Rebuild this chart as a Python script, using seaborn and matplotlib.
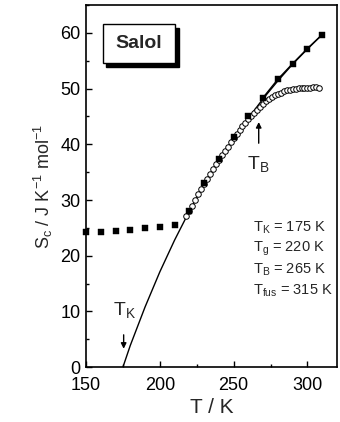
import pandas as pd
import matplotlib.pyplot as plt
import seaborn as sns
from matplotlib.patches import Rectangle
from matplotlib.ticker import MultipleLocator

# GLASS (BELOW Tg) SQUARES
glass_T = [150, 160, 170, 180, 190, 200, 210]
glass_S = [24.2, 24.3, 24.4, 24.7, 24.9, 25.1, 25.5]

# LIQUID SQUARES ON THE CURVE
liquid_T = [220, 230, 240, 250, 260, 270, 280, 290, 300, 310]
liquid_S = [28.0, 33.0, 37.3, 41.3, 45.0, 48.4, 51.7, 54.5, 57.2, 59.7]

# SOLID CURVE
curve_T = [175, 180, 190, 200, 210, 220, 230, 240, 250, 260, 270, 280, 290, 300, 310]
curve_S = [0.0, 3.9, 10.8, 17.1, 22.8, 28.0, 32.8, 37.1, 41.1, 44.7, 48.2, 51.4, 54.4, 57.1, 59.7]

# OPEN CIRCLES
circ_T = [218, 220, 222, 224, 226, 228, 230, 232, 234, 236, 238, 240, 242, 244,
          246, 248, 250, 252, 254, 256, 258, 260, 262, 264, 266, 268, 270, 272,
          274, 276, 278, 280, 282, 284, 286, 288, 290, 292, 294, 296, 298, 300,
          302, 304, 306, 308]
circ_S = [27.2, 28.0, 29.0, 30.0, 31.0, 32.0, 32.9, 33.8, 34.7, 35.6, 36.4, 37.2,
          38.0, 38.8, 39.6, 40.4, 41.1, 41.8, 42.5, 43.2, 43.9, 44.5, 45.1, 45.7,
          46.2, 46.7, 47.2, 47.7, 48.1, 48.5, 48.8, 49.1, 49.3, 49.5, 49.7, 49.8,
          49.9, 50.0, 50.1, 50.1, 50.2, 50.2, 50.2, 50.3, 50.3, 50.2]

temps = [("K", "175"), ("g", "220"), ("B", "265"), ("fus", "315")]

sns.set_theme(style="ticks")
plt.rcParams["font.family"] = ["Liberation Sans", "DejaVu Sans"]
plt.rcParams["mathtext.fontset"] = "custom"
plt.rcParams["mathtext.rm"] = "Liberation Sans"
plt.rcParams["mathtext.it"] = "Liberation Sans"

fig = plt.figure(figsize=(3.4, 4.22), dpi=100)
ax = fig.add_axes([0.253, 0.130, 0.738, 0.858])

sns.lineplot(x=curve_T, y=curve_S, ax=ax, color="black", linewidth=1.0)
sns.lineplot(x=liquid_T[5:], y=liquid_S[5:], ax=ax, color="black", linewidth=1.0)
sns.scatterplot(x=circ_T, y=circ_S, ax=ax, marker="o", s=16, facecolor="white",
                edgecolor="black", linewidth=0.7, zorder=3)
sns.scatterplot(x=liquid_T, y=liquid_S, ax=ax, marker="s", s=18, color="black",
                edgecolor="black", linewidth=0.3, zorder=4)
sns.scatterplot(x=glass_T, y=glass_S, ax=ax, marker="s", s=18, color="black",
                edgecolor="black", linewidth=0.3, zorder=4, clip_on=False)

ax.set_xlim(150, 320)
ax.set_ylim(0, 65)
ax.xaxis.set_major_locator(MultipleLocator(50))
ax.xaxis.set_minor_locator(MultipleLocator(25))
ax.yaxis.set_major_locator(MultipleLocator(10))
ax.yaxis.set_minor_locator(MultipleLocator(5))
ax.tick_params(which="both", direction="in", top=False, right=False,
               labelsize=13, width=1.0, colors="black")
ax.tick_params(which="major", length=4)
ax.tick_params(which="minor", length=2)
ax.tick_params(axis="x", which="major", pad=7)
ax.tick_params(axis="y", which="major", pad=4)
for sp in ax.spines.values():
    sp.set_visible(True)
    sp.set_linewidth(1.2)
    sp.set_color("black")

ax.set_xlabel("T / K", fontsize=15, labelpad=3)
ax.set_ylabel(r"S$_\mathrm{c}$ / J K$^\mathrm{-1}$ mol$^\mathrm{-1}$", fontsize=13, labelpad=4)

# SALOL BOX WITH SHADOW
ax.add_patch(Rectangle((0.081, 0.828), 0.288, 0.109, transform=ax.transAxes,
                       facecolor="black", edgecolor="black", zorder=5))
ax.add_patch(Rectangle((0.067, 0.839), 0.288, 0.109, transform=ax.transAxes,
                       facecolor="white", edgecolor="black", linewidth=1.0, zorder=6))
ax.text(0.211, 0.893, "Salol", transform=ax.transAxes, ha="center", va="center",
        fontsize=14, fontweight="bold", zorder=7)

# TEMPERATURE LIST
for i, (sub, val) in enumerate(temps):
    ax.text(0.665, 0.385 - i * 0.058, rf"T$_\mathrm{{{sub}}}$ = {val} K",
            transform=ax.transAxes, fontsize=10.5, ha="left", va="center")

# T_K ARROW
ax.text(176, 10.3, r"T$_\mathrm{K}$", fontsize=14, ha="center", va="center")
ax.annotate("", xy=(175.5, 3.3), xytext=(175.5, 5.8),
            arrowprops=dict(arrowstyle="-|>", color="black", lw=1.0,
                            mutation_scale=8, shrinkA=0, shrinkB=0))

# T_B ARROW
ax.text(267, 36.5, r"T$_\mathrm{B}$", fontsize=14, ha="center", va="center")
ax.annotate("", xy=(267, 44.0), xytext=(267, 40.2),
            arrowprops=dict(arrowstyle="-|>", color="black", lw=1.0,
                            mutation_scale=8, shrinkA=0, shrinkB=0))

fig.savefig("out.png", dpi=100)
